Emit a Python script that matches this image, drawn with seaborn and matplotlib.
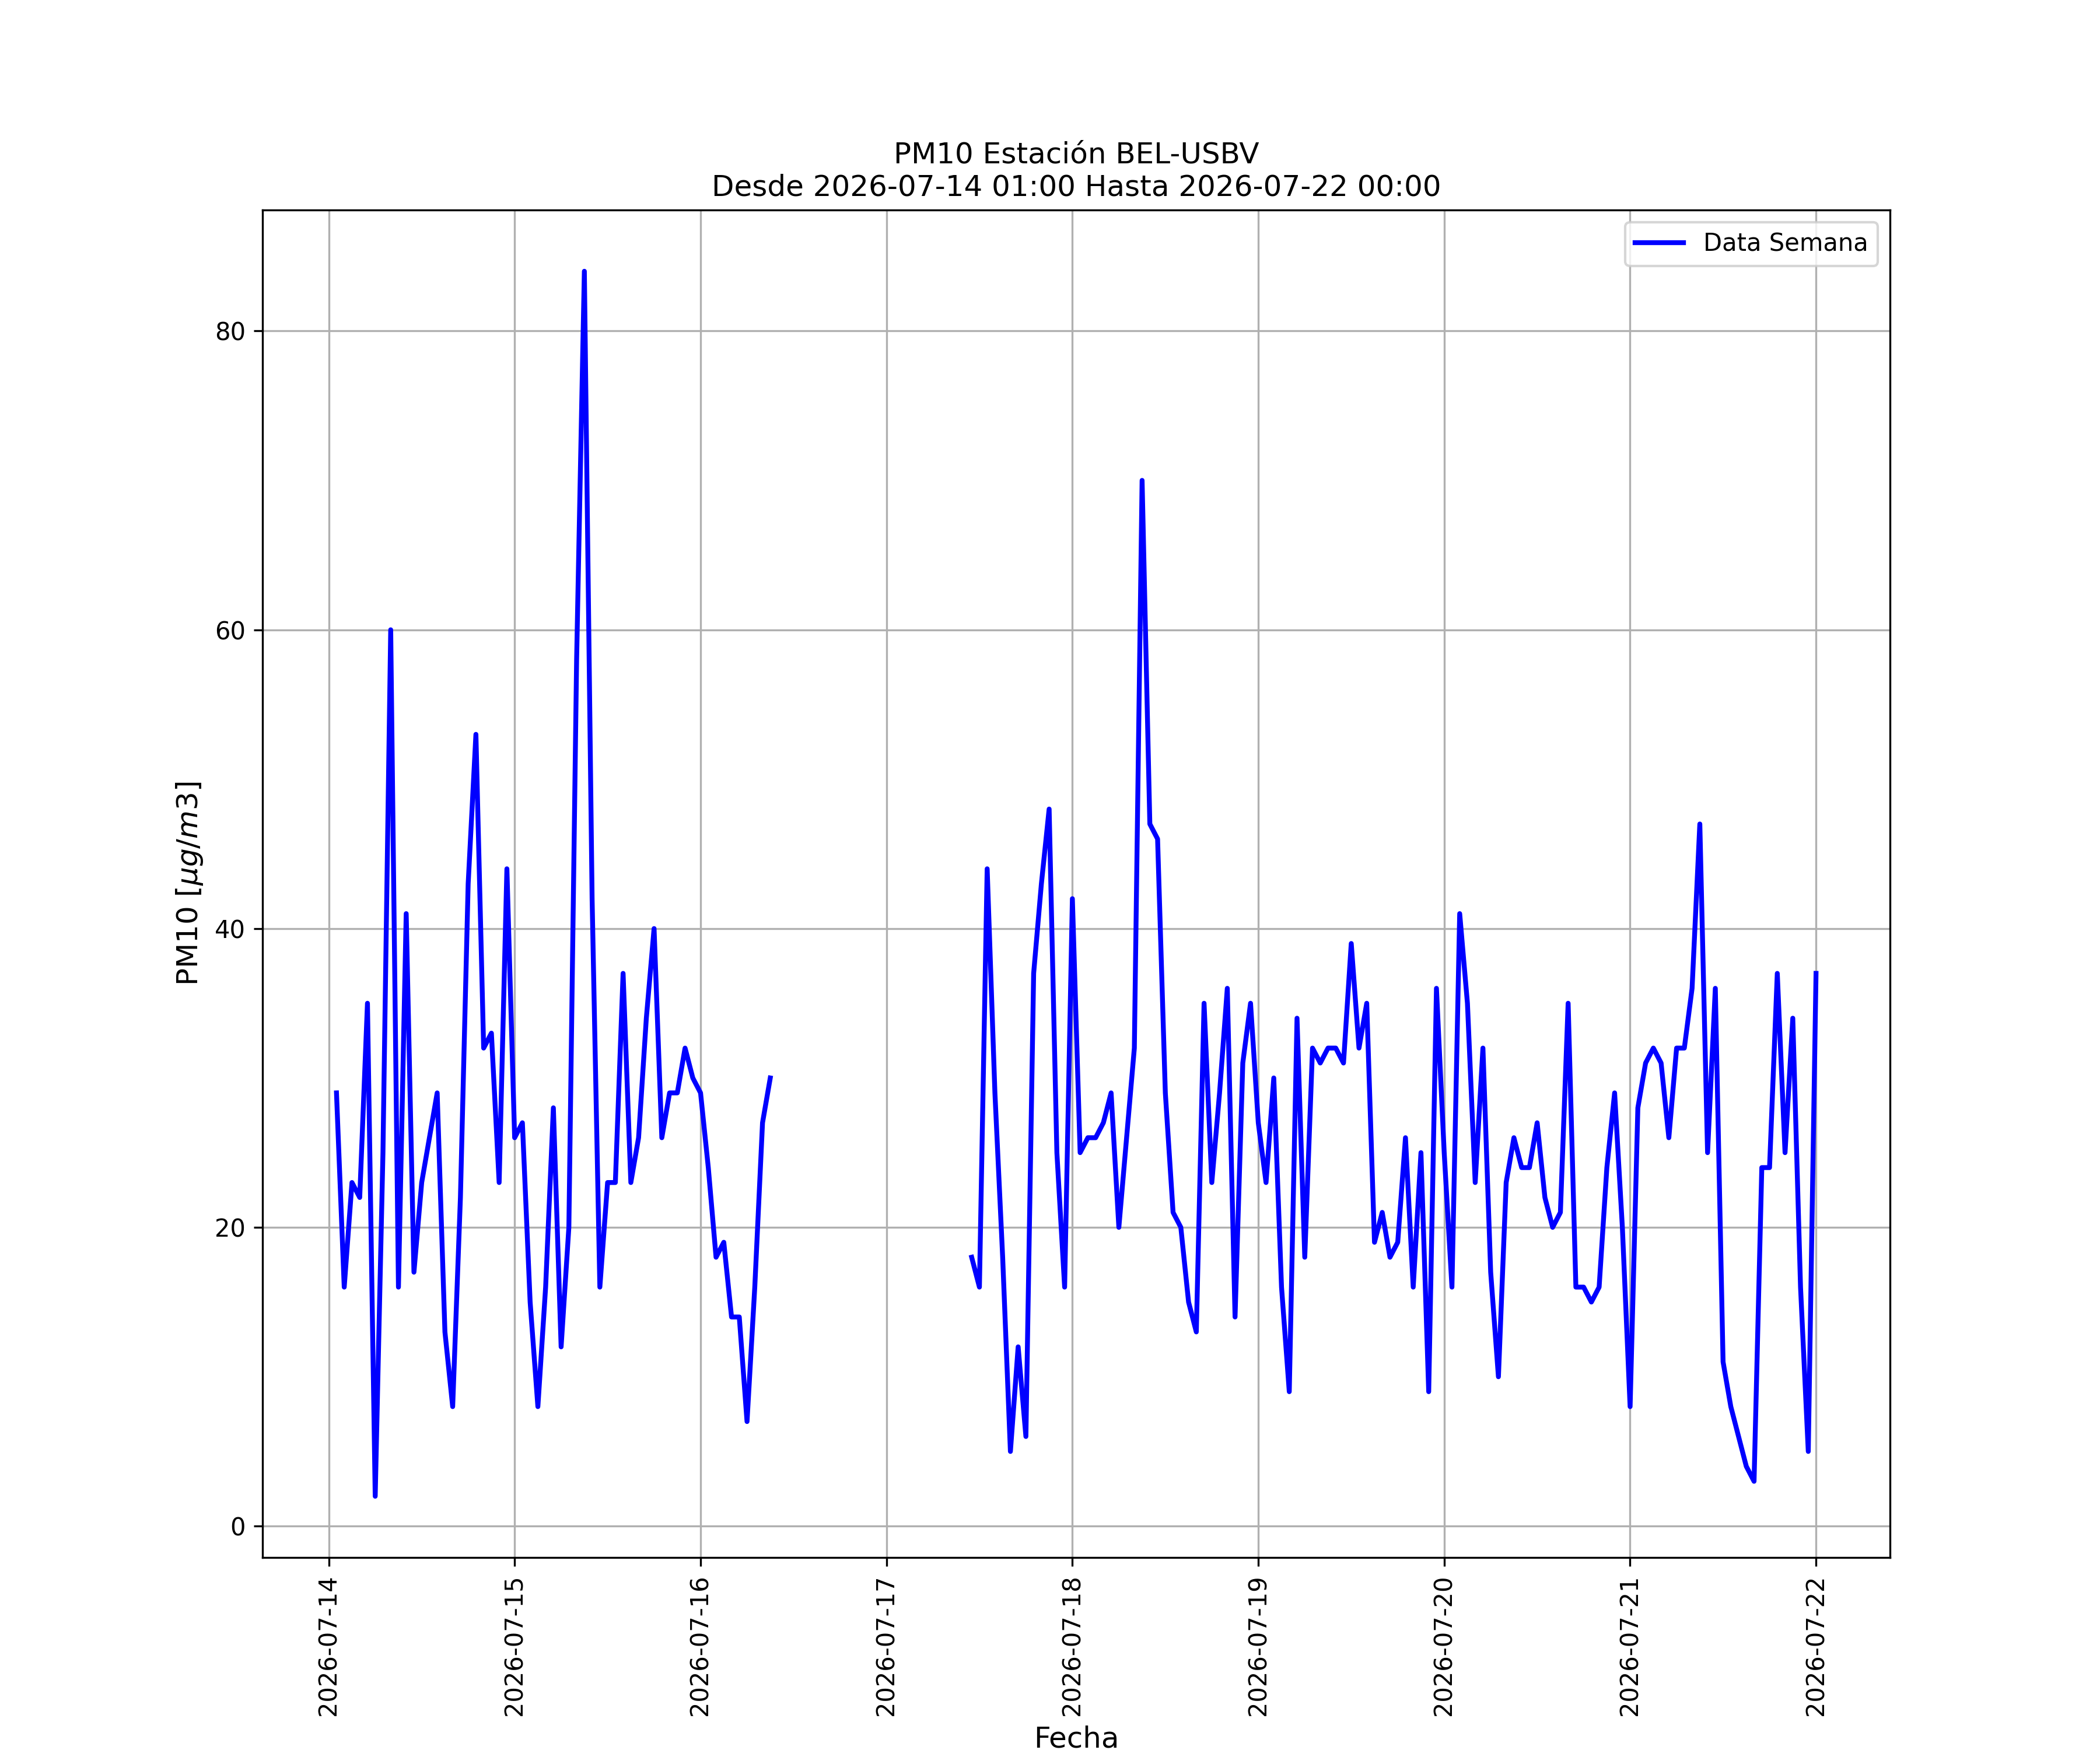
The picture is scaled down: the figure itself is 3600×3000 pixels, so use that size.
import pandas as pd
import matplotlib
matplotlib.use("Agg")
import matplotlib.pyplot as plt
import matplotlib.dates as mdates
import seaborn as sns

# PM10 hourly values, two blocks of data (gap between them)
start_1 = "2026-07-14 01:00"
pm10_1 = [29, 16, 23, 22, 35, 2, 25, 60, 16, 41, 17, 23, 26, 29, 13, 8, 22, 43, 53, 32, 33, 23, 44,
          26, 27, 15, 8, 16, 28, 12, 20, 58, 84, 42, 16, 23, 23, 37, 23, 26, 34, 40, 26, 29, 29, 32, 30,
          29, 24, 18, 19, 14, 14, 7, 16, 27, 30]

start_2 = "2026-07-17 11:00"
pm10_2 = [18, 16, 44, 29, 18, 5, 12, 6, 37, 43, 48, 25, 16,
          42, 25, 26, 26, 27, 29, 20, 26, 32, 70, 47, 46, 29, 21, 20, 15, 13, 35, 23, 29, 36, 14, 31, 35,
          27, 23, 30, 16, 9, 34, 18, 32, 31, 32, 32, 31, 39, 32, 35, 19, 21, 18, 19, 26, 16, 25, 9, 36,
          25, 16, 41, 35, 23, 32, 17, 10, 23, 26, 24, 24, 27, 22, 20, 21, 35, 16, 16, 15, 16, 24, 29, 20,
          8, 28, 31, 32, 31, 26, 32, 32, 36, 47, 25, 36, 11, 8, 6, 4, 3, 24, 24, 37, 25, 34, 16, 5,
          37]

df1 = pd.DataFrame({"fecha": pd.date_range(start_1, periods=len(pm10_1), freq="h"),
                    "pm10": pm10_1, "tramo": 1})
df2 = pd.DataFrame({"fecha": pd.date_range(start_2, periods=len(pm10_2), freq="h"),
                    "pm10": pm10_2, "tramo": 2})
data = pd.concat([df1, df2], ignore_index=True)

fig, ax = plt.subplots(figsize=(12, 10))
sns.lineplot(data=data, x="fecha", y="pm10", units="tramo", estimator=None,
             color="blue", linewidth=2, label="Data Semana", ax=ax)

ax.set_title("PM10 Estación BEL-USBV\nDesde 2026-07-14 01:00 Hasta 2026-07-22 00:00", fontsize=12)
ax.set_xlabel("Fecha", fontsize=12)
ax.set_ylabel(r"PM10 [$\mu g/m3$]", fontsize=12)
ax.xaxis.set_major_locator(mdates.DayLocator())
ax.xaxis.set_major_formatter(mdates.DateFormatter("%Y-%m-%d"))
plt.setp(ax.get_xticklabels(), rotation=90)
ax.grid(True)
ax.legend(handles=[ax.lines[0]], labels=["Data Semana"], loc="upper right")

plt.savefig("out.png", dpi=300)
